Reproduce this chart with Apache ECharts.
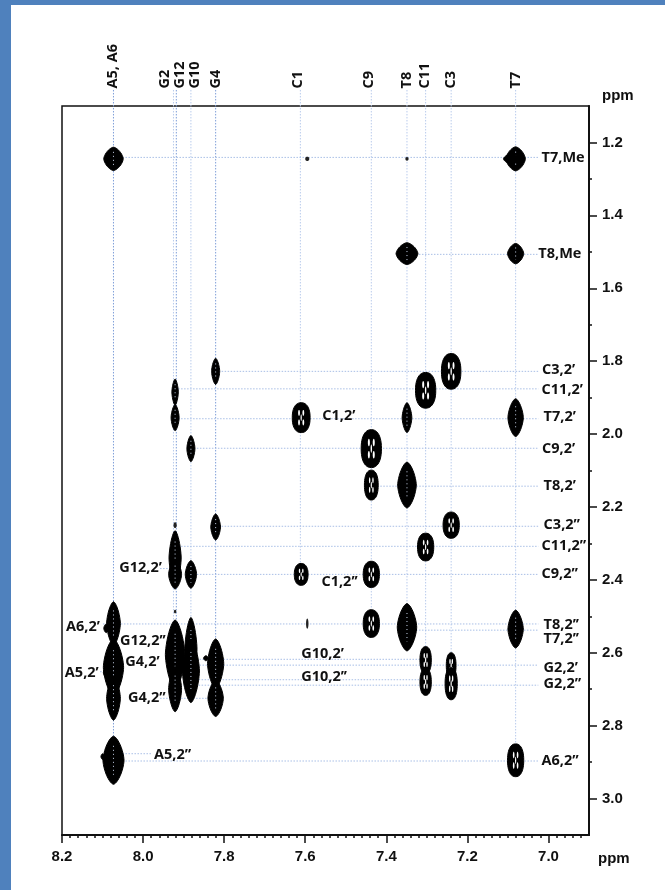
<!DOCTYPE html>
<html><head><meta charset="utf-8">
<style>html,body{margin:0;padding:0;background:#fff;overflow:hidden}
#bt{position:absolute;left:0;top:0;width:665px;height:5px;background:#4F81BD}
#bl{position:absolute;left:0;top:0;width:11px;height:890px;background:#4F81BD}
#c{position:absolute;left:0;top:0;width:665px;height:890px}</style>
<script src="https://cdn.jsdelivr.net/npm/echarts@6/dist/echarts.min.js"></script>
</head><body><div id="bt"></div><div id="bl"></div><div id="c"></div>
<script>
// Axis ticks (ppm)
const xMajor=[8.2,8.0,7.8,7.6,7.4,7.2,7.0];
const yMajor=[1.2,1.4,1.6,1.8,2.0,2.2,2.4,2.6,2.8,3.0];
const yMinor=[1.3,1.5,1.7,1.9,2.1,2.3,2.5,2.7,2.9];
const xMinor=[8.18,8.16,8.14,8.12,8.10,8.08,8.06,8.04,8.02,7.98,7.96,7.94,7.92,7.90,7.88,7.86,7.84,7.82,7.78,7.76,7.74,7.72,7.70,7.68,7.66,7.64,7.62,7.58,7.56,7.54,7.52,7.50,7.48,7.46,7.44,7.42,7.38,7.36,7.34,7.32,7.30,7.28,7.26,7.24,7.22,7.18,7.16,7.14,7.12,7.10,7.08,7.06,7.04,7.02,6.98,6.96,6.94,6.92];
// Column headings: name, ppm position, top end of guides
const topNames=["A5, A6","G2","G12","G10","G4","C1","C9","T8","C11","C3","T7"];
const topLabelX=[8.074,7.946,7.909,7.872,7.820,7.617,7.444,7.349,7.304,7.240,7.081];
const topLabelY=[1.052,1.052,1.052,1.052,1.052,1.052,1.052,1.052,1.052,1.052,1.052];
// Vertical guides [x ppm, y start, y end]
const vDark=[[8.073,1.056,2.897],[7.918,1.056,2.73],[7.821,1.056,2.72]];
const vLight=[[7.925,1.056,2.73],[7.882,1.056,2.69],[7.612,1.056,2.385],[7.437,1.056,2.52],[7.349,1.056,2.54],[7.303,1.056,2.70],[7.24,1.056,2.70],[7.081,1.056,2.897]];
// Horizontal guides [y ppm, x start, x end]
const hGuides=[[1.241,8.073,7.025],[1.507,7.349,7.025],[1.828,7.821,7.025],[1.876,7.921,7.025],[1.958,7.921,7.025],[2.039,7.882,7.025],[2.143,7.437,7.025],[2.253,7.821,7.025],[2.308,7.921,7.025],[2.385,7.882,7.025],[2.369,7.958,7.921],[2.521,8.099,7.025],[2.538,7.349,7.025],[2.618,7.92,7.316],[2.634,7.92,7.025],[2.674,7.90,7.316],[2.689,7.90,7.025],[2.652,8.106,8.073],[2.725,7.958,7.821],[2.877,8.073,7.978],[2.897,8.073,7.025],[2.564,7.93,7.921]];
// Peak labels
const peakNames=["T7,Me","T8,Me","C3,2’","C11,2’","T7,2’","C9,2’","T8,2’","C3,2’’","C11,2’’","C9,2’’","T8,2’’","T7,2’’","G2,2’","G2,2’’","A6,2’’","G10,2’","G10,2’’","C1,2’","C1,2’’","G12,2’","A6,2’","G12,2’’","G4,2’","A5,2’","G4,2’’","A5,2’’"];
const peakLabelX=[7.017,7.025,7.016,7.017,7.012,7.016,7.012,7.012,7.017,7.017,7.012,7.012,7.012,7.012,7.017,7.610,7.610,7.558,7.560,8.059,8.190,8.057,8.044,8.193,8.037,7.973];
const peakLabelY=[1.241,1.507,1.823,1.878,1.952,2.04,2.141,2.248,2.306,2.383,2.523,2.561,2.641,2.685,2.896,2.602,2.665,1.949,2.405,2.366,2.528,2.567,2.624,2.654,2.723,2.879];
// Cross peaks [x ppm, y ppm, half width ppm, half height ppm]
const solidPeaks=[[8.073,1.245,.024,.032],[7.081,1.245,.024,.033],[7.092,1.245,.019,.014],[7.349,1.505,.027,.030],[7.081,1.505,.020,.028],[7.821,1.828,.010,.036],[7.921,1.885,.008,.036],[7.921,1.955,.010,.036],[7.349,1.955,.012,.041],[7.081,1.955,.019,.052],[7.882,2.04,.010,.036],[7.349,2.14,.023,.063],[7.821,2.255,.012,.036],[7.921,2.34,.015,.075],[7.921,2.385,.016,.04],[7.882,2.385,.014,.038],[7.349,2.53,.024,.065],[7.081,2.535,.019,.052],[8.073,2.52,.017,.06],[8.091,2.533,.006,.012],[8.073,2.64,.025,.078],[8.091,2.655,.007,.012],[8.073,2.725,.017,.06],[7.921,2.605,.024,.095],[7.921,2.70,.016,.062],[7.882,2.59,.015,.087],[7.882,2.65,.021,.087],[7.821,2.63,.020,.068],[7.821,2.725,.019,.05],[7.845,2.615,.006,.007],[8.073,2.895,.026,.066],[8.1,2.885,.004,.008]];
const hollowPeaks=[[7.24,1.828,.024,.049],[7.303,1.88,.025,.049],[7.61,1.955,.022,.041],[7.437,2.04,.025,.052],[7.437,2.14,.017,.041],[7.24,2.25,.020,.036],[7.303,2.31,.020,.038],[7.61,2.385,.017,.030],[7.437,2.385,.020,.036],[7.437,2.52,.020,.038],[7.081,2.895,.020,.045],[7.303,2.62,.014,.037],[7.303,2.68,.014,.037],[7.24,2.635,.012,.035],[7.24,2.685,.015,.044]];
const tinyPeaks=[[7.595,1.245,.005,.006],[7.349,1.245,.004,.005],[7.921,2.25,.004,.008],[7.921,2.487,.003,.005],[7.595,2.52,.003,.014]];

function blob(cx,cy,a,b,n){
  const pts=[];
  for(let i=0;i<48;i++){
    const t=i/48*2*Math.PI,c=Math.cos(t),s=Math.sin(t);
    pts.push([cx+a*Math.sign(c)*Math.pow(Math.abs(c),2/n),cy+b*Math.sign(s)*Math.pow(Math.abs(s),2/n)]);
  }
  return pts;
}
const peakSeries=(data,kind)=>({type:'custom',data,z:5,silent:true,
  renderItem(params,api){
    const p=api.coord([api.value(0),api.value(1)]);
    const sz=api.size([api.value(2),api.value(3)]);
    const a=sz[0],b=sz[1],ch=[];
    if(kind==='tiny'){
      ch.push({type:'polygon',shape:{points:blob(p[0],p[1],a,b,2)},style:{fill:'#222'}});
    }else if(kind==='solid'){
      ch.push({type:'polygon',shape:{points:blob(p[0],p[1],a,b,1.55)},style:{fill:'#000',stroke:'#000',lineWidth:1}});
      if(b>6) ch.push({type:'line',shape:{x1:p[0],y1:p[1]-b*.6,x2:p[0],y2:p[1]+b*.6},style:{stroke:'#c8d4ea',lineWidth:1,lineDash:[1,3]}});
    }else{
      ch.push({type:'polygon',shape:{points:blob(p[0],p[1],a,b,2.3)},style:{fill:'#000',stroke:'#000',lineWidth:1}});
      // inner contours: broken white gaps either side of the centre, narrowing at the waist
      [[-.24,-.32],[.24,-.32],[-.24,.32],[.24,.32]].forEach(o=>{
        ch.push({type:'polygon',shape:{points:blob(p[0]+a*o[0],p[1]+b*o[1],Math.max(.7,a*.1),b*.2,2)},style:{fill:'#fff'}});
      });
      ch.push({type:'polygon',shape:{points:blob(p[0],p[1],Math.max(.6,a*.07),b*.22,2)},style:{fill:'#fff'}});
    }
    return {type:'group',children:ch};
  },
  encode:{x:0,y:1}
});
const guideV=(data,color)=>({type:'custom',data,z:2,silent:true,
  renderItem(params,api){
    const s=api.coord([api.value(0),api.value(1)]),e=api.coord([api.value(0),api.value(2)]);
    return {type:'line',shape:{x1:s[0],y1:s[1],x2:e[0],y2:e[1]},style:{stroke:color,lineWidth:1,lineDash:[1.5,1.5]}};
  },encode:{x:0,y:[1,2]}});
const guideH=(data,color)=>({type:'custom',data,z:2,silent:true,
  renderItem(params,api){
    const s=api.coord([api.value(1),api.value(0)]),e=api.coord([api.value(2),api.value(0)]);
    return {type:'line',shape:{x1:s[0],y1:s[1],x2:e[0],y2:e[1]},style:{stroke:color,lineWidth:1,lineDash:[1.5,1.5]}};
  },encode:{x:[1,2],y:0}});
const labelFont='bold 14.5px "Open Sans"';
const textSeries=(names,xs,ys,rot)=>({type:'custom',z:6,silent:true,
  data:names.map((n,i)=>[xs[i],ys[i]]),
  renderItem(params,api){
    const p=api.coord([api.value(0),api.value(1)]);
    return {type:'text',x:p[0],y:p[1],rotation:rot?Math.PI/2:0,
      style:{text:names[params.dataIndex],font:labelFont,fill:'#111',align:'left',verticalAlign:'middle'}};
  },encode:{x:0,y:1}});

const axisBase={min:6.9,max:8.2,inverse:true,type:'value',splitLine:{show:false}};
const yBase={min:1.1,max:3.1,inverse:true,type:'value',splitLine:{show:false},position:'right'};
const tickFont={fontFamily:'"Liberation Sans"',fontWeight:'bold',fontSize:15,color:'#111'};
const axisLine={show:true,lineStyle:{color:'#111',width:2}};
const option={
  animation:false,
  grid:{left:62,right:76,top:106,bottom:55,show:true,borderColor:'#111',borderWidth:1.5,backgroundColor:'transparent'},
  xAxis:[
    Object.assign({},axisBase,{position:'bottom',axisLine,
      axisTick:{show:true,customValues:xMajor,length:8,lineStyle:{color:'#111',width:1.5}},
      axisLabel:{show:true,customValues:xMajor,margin:14,formatter:v=>v.toFixed(1),...tickFont}}),
    Object.assign({},axisBase,{position:'bottom',axisLine:{show:false},
      axisTick:{show:true,customValues:xMinor,length:3,lineStyle:{color:'#111',width:1.5}},
      axisLabel:{show:false}})
  ],
  yAxis:[
    Object.assign({},yBase,{axisLine,
      axisTick:{show:true,customValues:yMajor,length:8,lineStyle:{color:'#111',width:1.5}},
      axisLabel:{show:true,customValues:yMajor,margin:13,formatter:v=>v.toFixed(1),...tickFont}}),
    Object.assign({},yBase,{axisLine:{show:false},
      axisTick:{show:true,customValues:yMinor,length:3,lineStyle:{color:'#111',width:1.5}},
      axisLabel:{show:false}})
  ],
  graphic:[
    {type:'text',left:602,top:88,style:{text:'ppm',font:'bold 15px "Liberation Sans"',fill:'#111'}},
    {type:'text',left:598,top:851,style:{text:'ppm',font:'bold 15px "Liberation Sans"',fill:'#111'}}
  ],
  series:[
    guideV(vLight,'#b9cbec'),guideV(vDark,'#7f9fd8'),guideH(hGuides,'#a9bfe6'),
    peakSeries(solidPeaks,'solid'),peakSeries(hollowPeaks,'hollow'),peakSeries(tinyPeaks,'tiny'),
    textSeries(topNames,topLabelX,topLabelY,true),
    textSeries(peakNames,peakLabelX,peakLabelY,false)
  ]
};
echarts.init(document.getElementById('c'),null,{renderer:'canvas'}).setOption(option);
</script></body></html>
